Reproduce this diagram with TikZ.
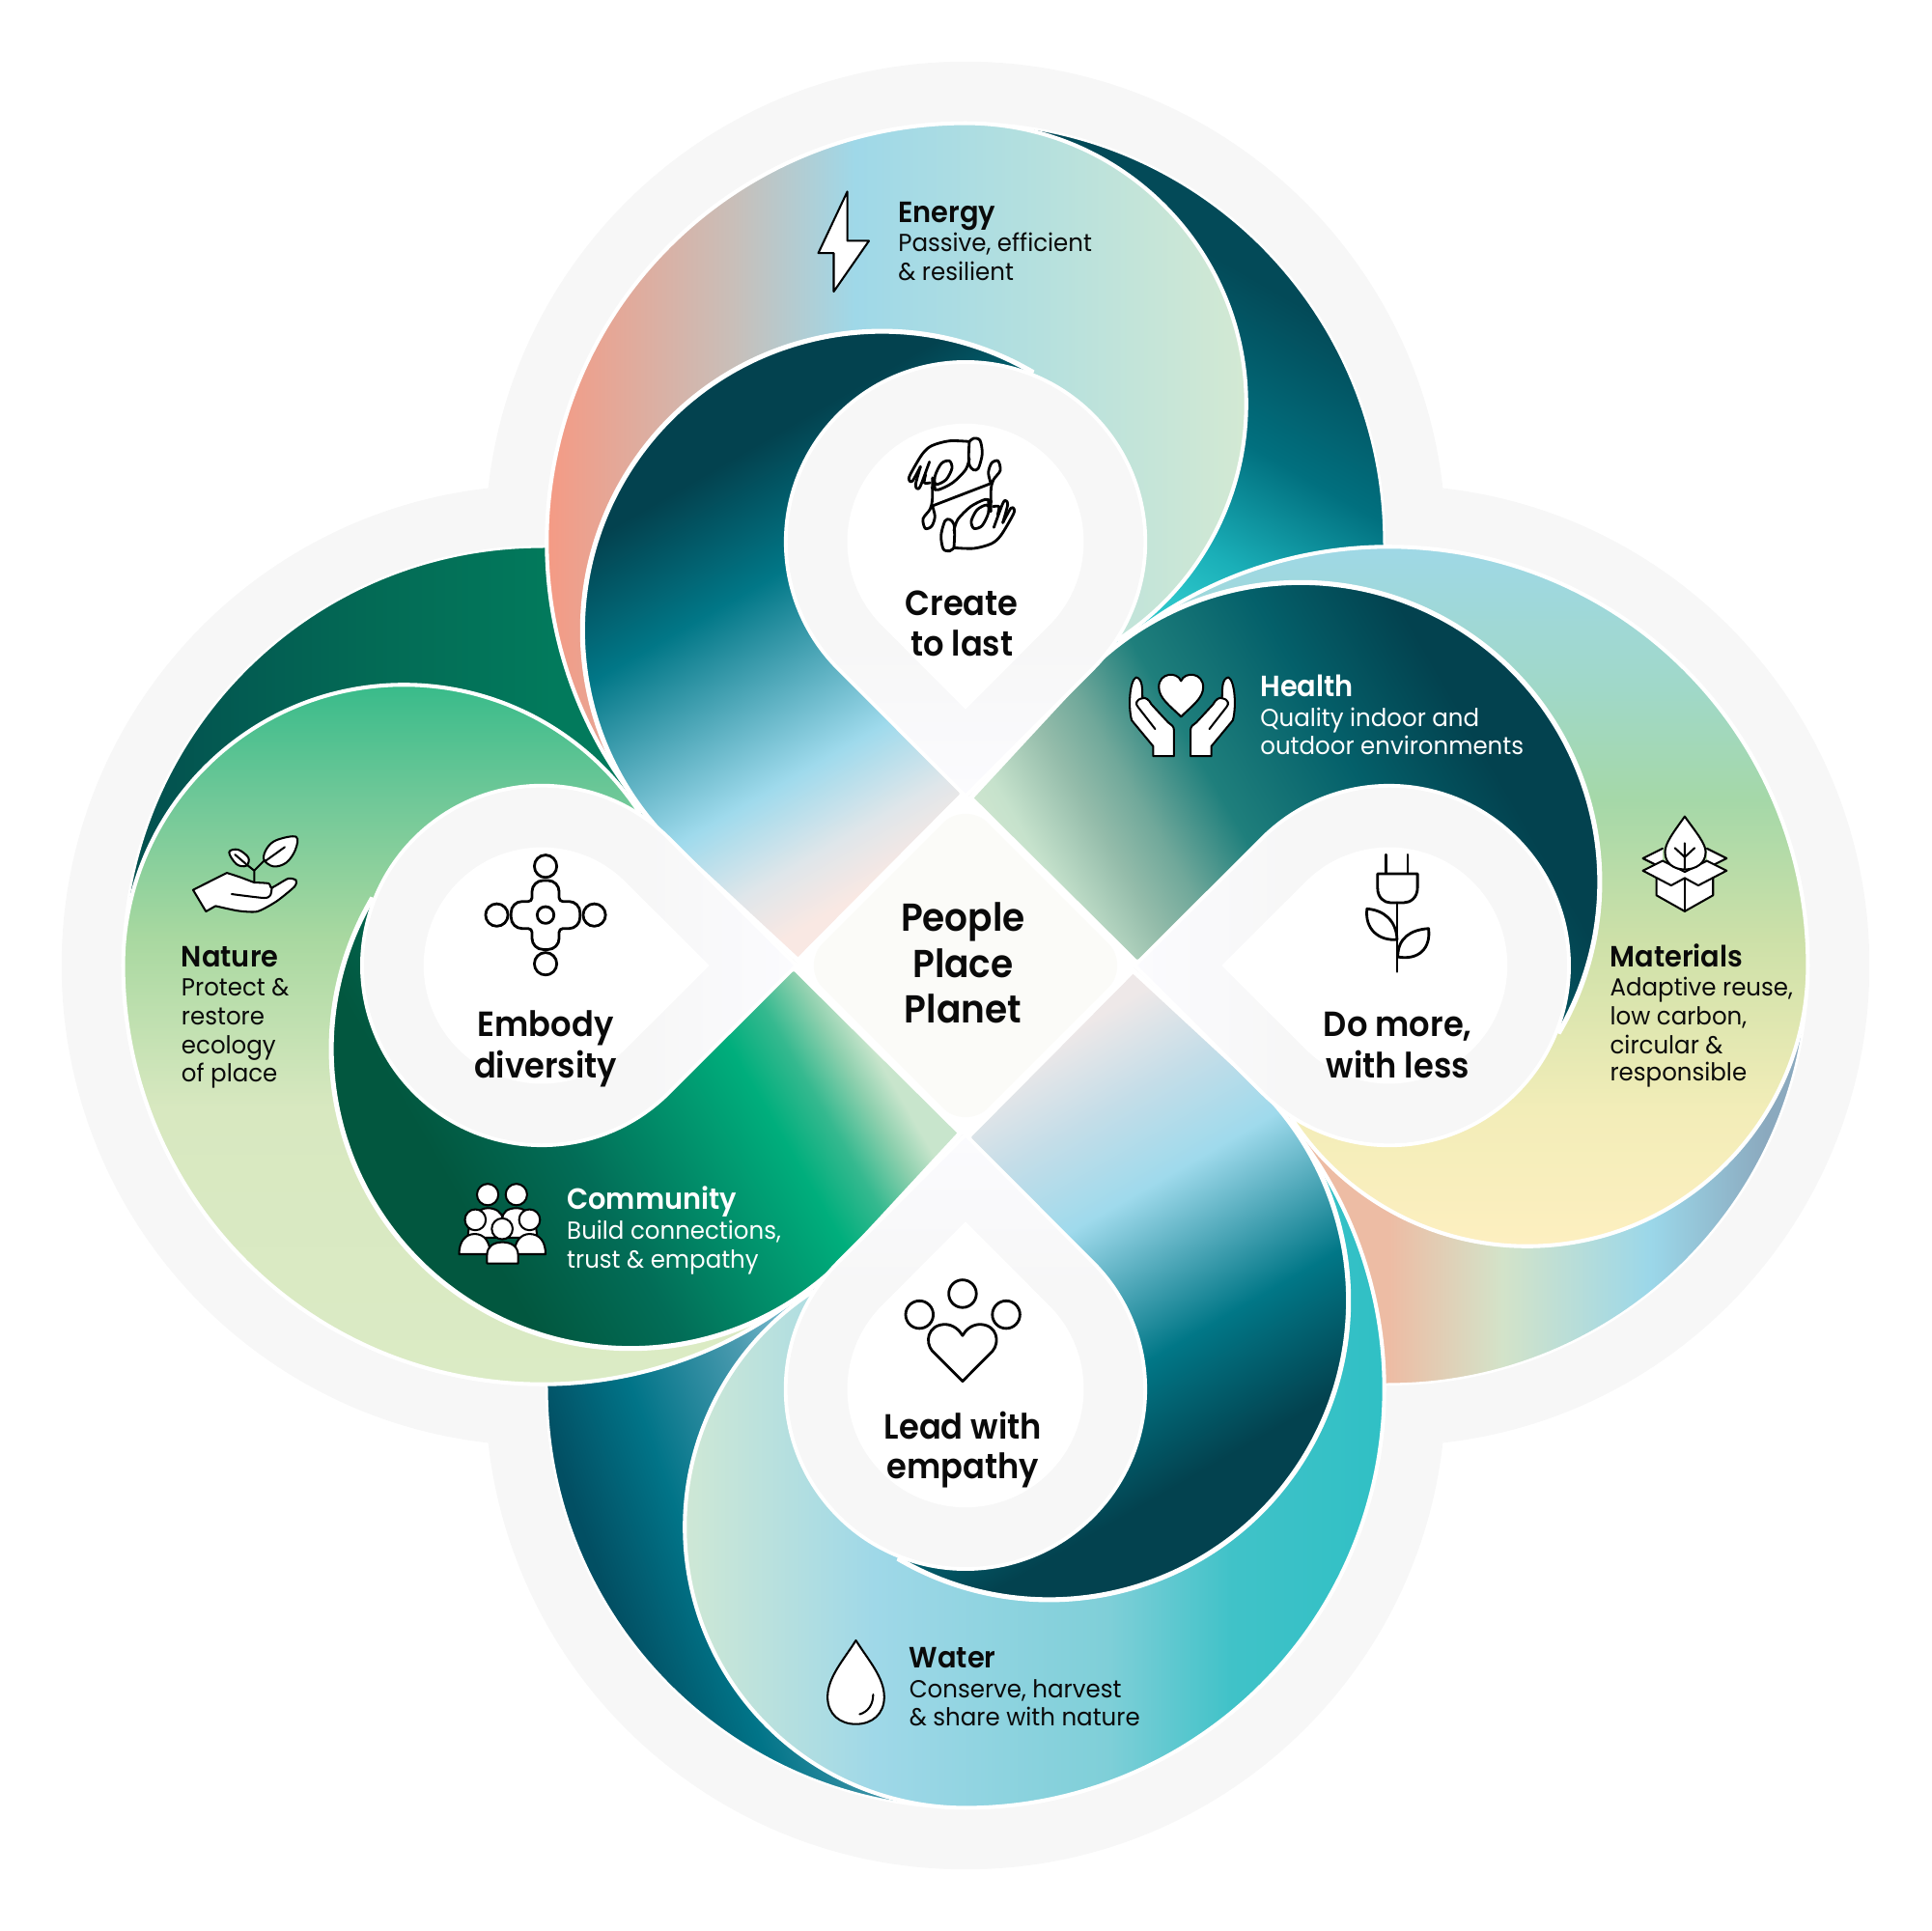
\documentclass[tikz,border=0pt]{standalone}
\usepackage{fontspec}
\setmainfont{Poppins}
\newfontfamily\subfont[FakeStretch=0.96]{Poppins}
\newfontfamily\headfont[FakeStretch=0.95]{Poppins SemiBold}
\newfontfamily\mainfont[FakeStretch=0.93]{Poppins SemiBold}
\definecolor{bgg}{HTML}{F7F7F7}
\definecolor{ink}{HTML}{0A0A0A}
\definecolor{tipw}{HTML}{FBFBFE}
\definecolor{ctrw}{HTML}{FBFBF8}
% petal colours
\definecolor{a1}{HTML}{F59A84}\definecolor{a2}{HTML}{C9BEB8}\definecolor{a3}{HTML}{9FD8E8}\definecolor{a4}{HTML}{B5E0DE}\definecolor{a5}{HTML}{D3E9D3}
\definecolor{b1}{HTML}{9FD8E6}\definecolor{b2}{HTML}{A0D8C8}\definecolor{b3}{HTML}{A5D8A8}\definecolor{b4}{HTML}{CCE0A8}\definecolor{b5}{HTML}{F2EDB8}\definecolor{b6}{HTML}{FDEFC0}
\definecolor{c1}{HTML}{30C0C5}\definecolor{c2}{HTML}{40C2C8}\definecolor{c3}{HTML}{7FCFD8}\definecolor{c4}{HTML}{9FD8E8}\definecolor{c5}{HTML}{CFE8D5}
\definecolor{d1}{HTML}{DBEBC5}\definecolor{d2}{HTML}{D8E8C0}\definecolor{d3}{HTML}{A8D8A0}\definecolor{d4}{HTML}{70C898}\definecolor{d5}{HTML}{38BB8A}
% band colours
\definecolor{e1}{HTML}{03424F}\definecolor{e2}{HTML}{017787}\definecolor{e3}{HTML}{9FDAEC}\definecolor{e4}{HTML}{F9E8E3}\definecolor{e5}{HTML}{DFE6EA}
\definecolor{f2}{HTML}{04606A}\definecolor{f3}{HTML}{1F7F7C}\definecolor{f4}{HTML}{70A89A}\definecolor{f6}{HTML}{94BCAA}\definecolor{f7}{HTML}{C6E2CC}\definecolor{f5}{HTML}{D2E7D0}
\definecolor{g1}{HTML}{02573F}\definecolor{g2}{HTML}{026D57}\definecolor{g3}{HTML}{00AE7C}\definecolor{g4}{HTML}{35B98F}\definecolor{g6}{HTML}{8ED0AE}\definecolor{g5}{HTML}{C8E5CC}
\definecolor{h3}{HTML}{C4DDE8}\definecolor{h4}{HTML}{EEE8E8}
% crescent colours
\definecolor{i1}{HTML}{034A58}\definecolor{i2}{HTML}{01707F}\definecolor{i3}{HTML}{1AAFB8}\definecolor{i4}{HTML}{2BC4C8}
\definecolor{j1}{HTML}{EDBCA4}\definecolor{j2}{HTML}{D3E3C9}\definecolor{j3}{HTML}{9BD7E9}\definecolor{j4}{HTML}{8BA9BE}
\definecolor{k1}{HTML}{03504F}\definecolor{k2}{HTML}{036A55}\definecolor{k3}{HTML}{027A5C}
\definecolor{l2}{HTML}{024F63}\definecolor{l3}{HTML}{017488}\definecolor{l4}{HTML}{4A9AAF}\definecolor{l5}{HTML}{88C4D8}
\pgfdeclarehorizontalshading{ptop}{100bp}{color(0bp)=(a1);color(39.34bp)=(a1);color(44.06bp)=(a2);color(47.19bp)=(a3);color(51.88bp)=(a4);color(57.16bp)=(a5);color(100bp)=(a5)}
\pgfdeclarehorizontalshading{pright}{100bp}{color(0bp)=(b1);color(39.38bp)=(b1);color(43bp)=(b2);color(45.81bp)=(b3);color(49.25bp)=(b4);color(53.63bp)=(b5);color(57.06bp)=(b6);color(100bp)=(b6)}
\pgfdeclarehorizontalshading{pbottom}{100bp}{color(0bp)=(c1);color(39.41bp)=(c1);color(43.25bp)=(c2);color(46.38bp)=(c3);color(52.31bp)=(c4);color(57.16bp)=(c5);color(100bp)=(c5)}
\pgfdeclarehorizontalshading{pleft}{100bp}{color(0bp)=(d1);color(39.34bp)=(d1);color(46.38bp)=(d2);color(50.75bp)=(d3);color(54.19bp)=(d4);color(57.16bp)=(d5);color(100bp)=(d5)}
\pgfdeclarehorizontalshading{btop}{100bp}{color(0bp)=(e1);color(35.81bp)=(e1);color(38.94bp)=(e2);color(43.63bp)=(e3);color(45.63bp)=(e5);color(47.09bp)=(e4);color(100bp)=(e4)}
\pgfdeclarehorizontalshading{bright}{100bp}{color(0bp)=(e1);color(35.81bp)=(e1);color(38.94bp)=(f2);color(42.19bp)=(f3);color(44.06bp)=(f4);color(45.31bp)=(f6);color(47.03bp)=(f7);color(48.13bp)=(f5);color(100bp)=(f5)}
\pgfdeclarehorizontalshading{bbottom}{100bp}{color(0bp)=(e1);color(35.81bp)=(e1);color(38.94bp)=(e2);color(42.78bp)=(e3);color(45bp)=(h3);color(47.2bp)=(h4);color(100bp)=(h4)}
\pgfdeclarehorizontalshading{bleft}{100bp}{color(0bp)=(g1);color(35.81bp)=(g1);color(38.94bp)=(g2);color(43.75bp)=(g3);color(45bp)=(g4);color(46.09bp)=(g6);color(46.88bp)=(g5);color(100bp)=(g5)}
\pgfdeclarehorizontalshading{ctop}{100bp}{color(0bp)=(i1);color(31.13bp)=(i1);color(34.88bp)=(i2);color(37.75bp)=(i3);color(39.22bp)=(i4);color(100bp)=(i4)}
\pgfdeclarehorizontalshading{cright}{100bp}{color(0bp)=(j1);color(60.75bp)=(j1);color(63.63bp)=(j2);color(67.38bp)=(j3);color(70.31bp)=(j4);color(100bp)=(j4)}
\pgfdeclarehorizontalshading{cleft}{100bp}{color(0bp)=(k1);color(28.94bp)=(k1);color(34.88bp)=(k2);color(39.56bp)=(k3);color(100bp)=(k3)}
\pgfdeclarehorizontalshading{cbottom}{100bp}{color(0bp)=(l2);color(35.94bp)=(l2);color(38.34bp)=(l3);color(41.25bp)=(l4);color(43.13bp)=(l5);color(100bp)=(l5)}
\pgfdeclarehorizontalshading{dropg}{100bp}{color(0bp)=(bgg);color(41.88bp)=(bgg);color(45.75bp)=(tipw);color(100bp)=(tipw)}
\def\crescentP{(0,684) arc[start angle=90,end angle=0,radius=340] -- (344,300) -- (130,240) -- (100,300) -- cycle}
\def\petalP{(-252.7,116.5) arc[start angle=222,end angle=90,radius=340] arc[start angle=90,end angle=-56.7,radius=228] -- cycle}
\def\bandP{(53.5,482.4) arc[start angle=60,end angle=225,radius=243] -- (-136,4) -- (-3,138) -- (0,344) -- cycle}
\def\dropP{(0,137.5) -- (-103.2,240.8) arc[start angle=225,end angle=-45,radius=146] -- cycle}
\def\dropQ{(0,208) -- (-67.9,276.1) arc[start angle=225,end angle=-45,radius=96] -- cycle}
\newcommand\gradfill[5]{% path, arm rotation, shade angle, shading, white stroke
  \begin{scope}\clip[rotate=#2] #1;
    \shade[shading=#4,shading angle=#3] (-800,-800) rectangle (800,800);
  \end{scope}
  \draw[rotate=#2,white,line width=#5] #1;}
\tikzset{
  headt/.style={font=\fontsize{11.9}{14}\headfont,anchor=base west,inner sep=0pt},
  subt/.style={font=\fontsize{10}{12}\subfont,anchor=base west,inner sep=0pt},
  maint/.style={font=\fontsize{14.2}{16}\mainfont,anchor=base,inner sep=0pt,text=ink},
  ctrt/.style={font=\fontsize{15.8}{18}\mainfont,anchor=base,inner sep=0pt,text=ink},
  ico/.style={draw=black,fill=white,line width=1.1pt,line join=round,line cap=round},
  icl/.style={draw=black,line width=1.1pt,line join=round,line cap=round},
  thn/.style={draw=black,fill=white,line width=0.8pt,line join=round,line cap=round},
  thl/.style={draw=black,line width=0.8pt,line join=round,line cap=round}
}
\begin{document}
\begin{tikzpicture}[x=0.5pt,y=0.5pt]
\useasboundingbox (-784,-784) rectangle (784,784);
% background
\fill[bgg] (0,344) circle[radius=390] (0,-344) circle[radius=390] (344,0) circle[radius=390] (-344,0) circle[radius=390] (-388,-388) rectangle (388,388);
% crescents
\gradfill{\crescentP}{0}{-120}{ctop}{1pt}
\gradfill{\crescentP}{-90}{0}{cright}{1pt}
\gradfill{\crescentP}{-180}{20}{cbottom}{1pt}
\gradfill{\crescentP}{-270}{0}{cleft}{1pt}
% petals
\gradfill{\petalP}{0}{0}{ptop}{1.6pt}
\gradfill{\petalP}{-90}{-90}{pright}{1.6pt}
\gradfill{\petalP}{-180}{180}{pbottom}{1.6pt}
\gradfill{\petalP}{-270}{90}{pleft}{1.6pt}
% bands
\gradfill{\bandP}{0}{-60}{btop}{2pt}
\gradfill{\bandP}{-90}{-150}{bright}{2pt}
\gradfill{\bandP}{-180}{120}{bbottom}{2pt}
\gradfill{\bandP}{-270}{30}{bleft}{2pt}
% teardrops
\gradfill{\dropP}{0}{-90}{dropg}{1.5pt}
\gradfill{\dropP}{-90}{180}{dropg}{1.5pt}
\gradfill{\dropP}{-180}{90}{dropg}{1.5pt}
\gradfill{\dropP}{-270}{0}{dropg}{1.5pt}
\foreach \r in {0,-90,-180,-270}{
  \fill[rotate=\r,white] \dropQ;
}
% centre
\draw[fill=white,draw=white,line width=1.5pt] (0,137) -- (137,0) -- (0,-137) -- (-137,0) -- cycle;
\fill[fill=ctrw,rounded corners=13pt] (0,134) -- (134,0) -- (0,-134) -- (-134,0) -- cycle;
% everything below is in reference pixel coordinates
\begin{scope}[shift={(-784,784)},yscale=-1]
% ---- Energy
\draw[thn] (688,155.6) -- (688,195.6) -- (705.6,195.6) -- (677,236.8) -- (677,205.5) -- (664.5,205.5) -- cycle;
% ---- Create to last: two hands, point-symmetric
\begin{scope}[shift={(705.6,329.3)},scale=0.2613]
\foreach \s in {0,180}{
\begin{scope}[rotate around={\s:(288,277)}]
 \draw[icl] plot[smooth] coordinates {(312,112)(250,110)(195,125)(165,152)(128,215)(125,232)(135,235)(160,190)};
 \draw[icl] plot[smooth] coordinates {(160,190)(145,245)(150,258)(160,250)(188,175)};
 \draw[icl] plot[smooth] coordinates {(176,215)(172,240)(190,240)};
 \draw[icl] plot[smooth] coordinates {(312,165)(300,200)(260,240)(215,262)(195,255)};
 \draw[icl] plot[smooth] coordinates {(312,112)(325,102)(345,108)(352,150)(340,195)(325,200)(312,185)(310,150)(312,112)};
 \draw[icl] plot[smooth] coordinates {(205,262)(205,220)(225,180)(250,172)(258,195)(240,230)(210,245)(198,225)};
 \draw[icl] plot[smooth] coordinates {(197,225)(197,290)(190,322)(168,352)(175,382)(195,375)(205,345)(197,312)};
 \draw[icl] (197,312) -- (288,277);
\end{scope}}
\end{scope}
% ---- Health hands
\foreach \m/\o in {1/0,-1/1920}{
\begin{scope}[shift={(\o,0)},xscale=\m]
 \draw[thn] (936.4,614) -- (936.4,606) -- (919,585) .. controls (916,575) and (917,553) .. (922.5,550) .. controls (928,551) and (927.5,560) .. (927.7,567) .. controls (930,566) and (933,568) .. (935,572) -- (948.6,586.7) .. controls (951,588) and (953.3,590) .. (953.3,593) -- (953.3,614) -- cycle;
 \draw[thl] (927.7,567) .. controls (922,568) and (922,572) .. (924,574) -- (938,592);
\end{scope}}
\draw[thn] (959,582) .. controls (950,573) and (941,567) .. (941,558) .. controls (941,546) and (956,545) .. (959,553) .. controls (962,545) and (977,546) .. (977,558) .. controls (977,567) and (968,573) .. (959,582) -- cycle;
% ---- Do more plug
\draw[icl] (1125.6,694) -- (1125.6,709.5) (1143,694) -- (1143,709.5);
\draw[ico] (1118.6,709.5) -- (1151,709.5) -- (1151,721) .. controls (1151,729) and (1145,733) .. (1140,733) -- (1129,733) .. controls (1124,733) and (1118.6,729) .. (1118.6,721) -- cycle;
\draw[icl] (1134.4,733) -- (1134.4,789);
\draw[icl] (1134.4,763) .. controls (1120,764) and (1108,755) .. (1110,738) .. controls (1124,739) and (1134,748) .. (1134.4,763);
\draw[icl] (1135,777) .. controls (1152,780) and (1162,770) .. (1160,754) .. controls (1145,755) and (1135,762) .. (1135,777);
% ---- Materials box
\draw[thn] (1345,712) -- (1345,727) -- (1368,740) -- (1391,727) -- (1391,712) -- (1368,700) -- cycle;
\draw[thn] (1350,689) -- (1334,697) -- (1350,705);
\draw[thn] (1386,689) -- (1402,697) -- (1386,705);
\draw[thn] (1368,713) -- (1357,719) -- (1334,707) -- (1350,699) -- (1368,708) -- (1386,699) -- (1402,707) -- (1379,719) -- cycle;
\draw[thl] (1368,713) -- (1368,740);
\draw[thn] (1368,663) .. controls (1358,677) and (1352,685) .. (1352,692) .. controls (1352,701) and (1359,706) .. (1368,706) .. controls (1377,706) and (1385,701) .. (1385,692) .. controls (1385,685) and (1378,677) .. (1368,663) -- cycle;
\draw[thl] (1368,684.7) -- (1368,705) (1360,688.6) -- (1368,696) -- (1376,688.6);
% ---- Nature
\begin{scope}[shift={(141.1,658.6)},scale=0.2613]
 \draw[thn] plot[smooth,tension=0.3] coordinates {(250,222)(205,205)(165,192)} -- (60,245) -- (100,312) -- (130,295) plot[smooth,tension=0.4] coordinates {(130,295)(200,310)(260,312)(320,280)(375,235)(380,215)(355,210)(305,238)(295,225)(250,222)};
 \draw[thl] plot[smooth,tension=0.4] coordinates {(180,258)(280,270)(300,262)(305,238)};
 \draw[thl] (250,218) -- (250,185) -- (285,150) (250,185) -- (225,165);
 \draw[thn] plot[smooth cycle,tension=0.6] coordinates {(280,150)(290,115)(320,90)(380,80)(378,120)(350,160)(310,172)};
 \draw[thl] (285,155) -- (345,112);
 \draw[thn] plot[smooth cycle,tension=0.6] coordinates {(172,128)(200,120)(232,145)(225,170)(195,165)};
 \draw[thl] (190,135) -- (225,165);
\end{scope}
% ---- Embody
\draw[icl] (443,703.4) circle[radius=9.1] (443,782.6) circle[radius=9.1] (403.4,743) circle[radius=9.1] (482.6,743) circle[radius=9.1] (443,743) circle[radius=6.8];
\draw[icl] (432,732) [rounded corners=4.5pt] -- (432,715) -- (454,715) [rounded corners=1.5pt] -- (454,732) [rounded corners=4.5pt] -- (471,732) -- (471,754) [rounded corners=1.5pt] -- (454,754) [rounded corners=4.5pt] -- (454,771) -- (432,771) [rounded corners=1.5pt] -- (432,754) [rounded corners=4.5pt] -- (415,754) -- (415,732) [rounded corners=1.5pt] -- cycle;
% ---- Community
\draw[thn] (396,970) circle[radius=8.7] (419.3,970) circle[radius=8.7];
\draw[thn] (380,1005) .. controls (380,990) and (388,981) .. (396,981) .. controls (402,981) and (408,984) .. (408,990) .. controls (408,984) and (412,981) .. (420,981) .. controls (428,981) and (436,990) .. (436,1005) -- cycle;
\draw[thn] (372.8,1018.4) .. controls (372.8,1008) and (378,1002) .. (385.5,1002) .. controls (393,1002) and (398,1008) .. (398,1018.4) -- cycle;
\draw[thn] (417.6,1018.4) .. controls (417.6,1008) and (423,1002) .. (430,1002) .. controls (438,1002) and (443,1008) .. (443,1018.4) -- cycle;
\draw[thn] (386,990.5) circle[radius=8.5] (430,990.5) circle[radius=8.5];
\draw[thn] (395.5,1026) -- (395.5,1019) .. controls (395.5,1012) and (401,1008.7) .. (408,1008.7) .. controls (415,1008.7) and (420.7,1012) .. (420.7,1019) -- (420.7,1026) -- cycle;
\draw[thn] (407.8,997.8) circle[radius=8.5];
% ---- Lead with empathy
\draw[icl] (746.6,1067.5) circle[radius=11.2] (781.6,1050.5) circle[radius=11.2] (817,1067.5) circle[radius=11.2];
\draw[icl] (781.6,1121.6) -- (757,1097) .. controls (751,1090) and (753,1076) .. (767,1075.4) .. controls (774,1075.4) and (779,1080) .. (781.6,1084.5) .. controls (784,1080) and (789,1075.4) .. (796,1075.4) .. controls (810,1076) and (812,1090) .. (806,1097) -- cycle;
% ---- Water
\draw[thn] (695,1332) .. controls (685,1348) and (672,1362) .. (672,1378) .. controls (672,1392) and (682,1400) .. (695,1400) .. controls (708,1400) and (718,1392) .. (718,1378) .. controls (718,1362) and (705,1348) .. (695,1332) -- cycle;
\draw[thl] (709,1376) .. controls (709,1384) and (705,1390) .. (698,1392);
% ---- texts
\node[headt,text=ink] (t1) at (729,181) {Energy};
\node[subt,text=ink] (t1a) at (729,204.5) {Passive, efficient};
\node[subt,text=ink] (t1b) at (729,227.5) {\& resilient};
\node[headt,text=white] (t2) at (1023,566) {Health};
\node[subt,text=white] (t2a) at (1023,590) {Quality indoor and};
\node[subt,text=white] (t2b) at (1023,613) {outdoor environments};
\node[headt,text=ink] (t3) at (1307,785) {Materials};
\node[subt,text=ink] (t3a) at (1307,809) {Adaptive reuse,};
\node[subt,text=ink] (t3b) at (1307,832) {low carbon,};
\node[subt,text=ink] (t3c) at (1307,855.5) {circular \&};
\node[subt,text=ink] (t3d) at (1307,878) {responsible};
\node[headt,text=ink] (t4) at (147,785) {Nature};
\node[subt,text=ink] (t4a) at (147,808.5) {Protect \&};
\node[subt,text=ink] (t4b) at (147,832.5) {restore};
\node[subt,text=ink] (t4c) at (147,855.5) {ecology};
\node[subt,text=ink] (t4d) at (147,878.5) {of place};
\node[headt,text=white] (t5) at (460,982) {Community};
\node[subt,text=white] (t5a) at (460,1006.5) {Build connections,};
\node[subt,text=white] (t5b) at (460,1029.5) {trust \& empathy};
\node[headt,text=ink] (t6) at (738,1354) {Water};
\node[subt,text=ink] (t6a) at (738,1378.5) {Conserve, harvest};
\node[subt,text=ink] (t6b) at (738,1401.5) {\& share with nature};
\node[maint] (m1a) at (781,500) {Create};
\node[maint] (m1b) at (781,533) {to last};
\node[maint] (m2a) at (1135,842) {Do more,};
\node[maint] (m2b) at (1135,875) {with less};
\node[maint] (m3a) at (443,842) {Embody};
\node[maint] (m3b) at (443,875) {diversity};
\node[maint] (m4a) at (782,1168.5) {Lead with};
\node[maint] (m4b) at (782,1201) {empathy};
\node[ctrt] (c1) at (782,756) {People};
\node[ctrt] (c2) at (782,794) {Place};
\node[ctrt] (c3) at (782,831) {Planet};
\end{scope}
\end{tikzpicture}
\end{document}
